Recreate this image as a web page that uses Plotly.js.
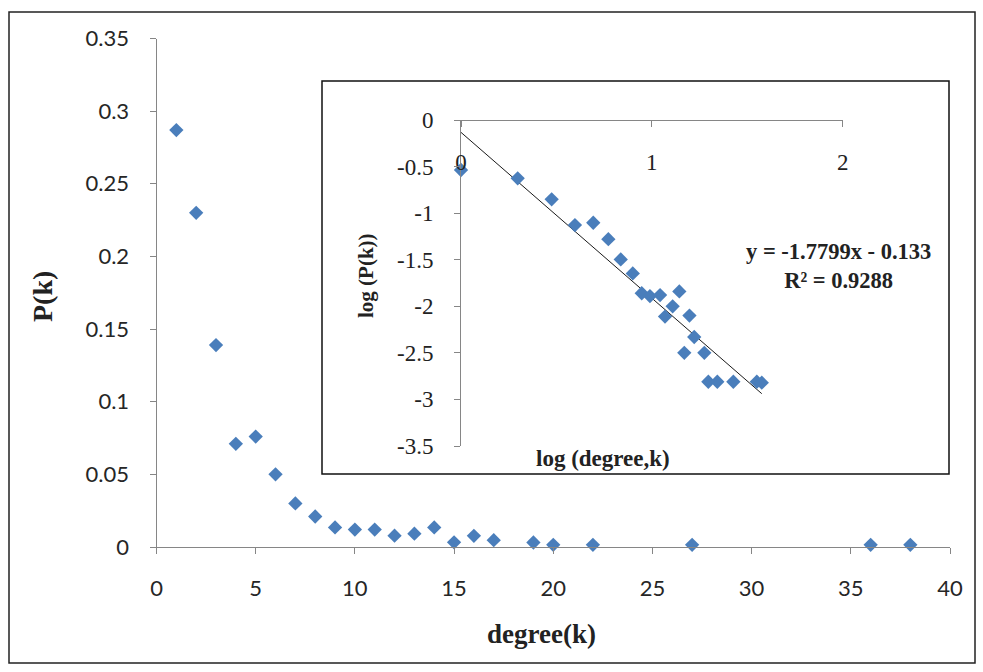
<!DOCTYPE html>
<html>
<head>
<meta charset="utf-8">
<script src="https://cdn.plot.ly/plotly-3.0.1.min.js"></script>
<style>
html, body { margin: 0; padding: 0; background: #fff; }
#chart { width: 983px; height: 672px; }
</style>
</head>
<body>
<div id="chart"></div>
<script>
// ---- Main chart data: degree distribution ----
const degree = [1, 2, 3, 4, 5, 6, 7, 8, 9, 10, 11, 12, 13, 14, 15, 16, 17, 19, 20, 22, 27, 36, 38];
const pk = [0.287, 0.230, 0.139, 0.071, 0.076, 0.050, 0.030, 0.021, 0.0135, 0.012, 0.012, 0.0078,
            0.0092, 0.0135, 0.0032, 0.0077, 0.0047, 0.0031, 0.0015, 0.0015, 0.0015, 0.0015, 0.0015];

// ---- Inset data: log-log plot ----
const logDegree = [0, 0.297, 0.475, 0.597, 0.693, 0.772, 0.837, 0.900, 0.947, 0.990, 1.043, 1.069,
                   1.109, 1.144, 1.170, 1.197, 1.222, 1.275, 1.296, 1.343, 1.427, 1.550, 1.576];
const logPk = [-0.537, -0.626, -0.852, -1.128, -1.103, -1.280, -1.497, -1.647, -1.860, -1.890, -1.880, -2.110,
               -2.000, -1.840, -2.500, -2.100, -2.330, -2.500, -2.810, -2.810, -2.810, -2.810, -2.820];

// Linear fit reported on the chart
const fitSlope = -1.7799;
const fitIntercept = -0.133;
const fitText = "y = -1.7799x - 0.133<br>R² = 0.9288";

// Titles
const mainXTitle = "degree(k)";
const mainYTitle = "P(k)";
const insetXTitle = "log (degree,k)";
const insetYTitle = "log (P(k))";

// Tick labels
const insetYTickVals = [0, -0.5, -1, -1.5, -2, -2.5, -3, -3.5];
const insetYTickText = ["0", "-0.5", "-1", "-1.5", "-2", "-2.5", "-3", "-3.5"];
const insetXTickVals = [0, 1, 2];
const insetXTickText = ["0", "1", "2"];

// ---- layout helpers (pixel -> paper) ----
const W = 983, H = 672;
const px = x => x / W;
const py = y => 1 - y / H;

const markerColor = "#4a7ebb";
const axisGray = "#868686";
const sansFont = "Lato, 'Liberation Sans', sans-serif";
const serifFont = "'Liberation Serif', 'DejaVu Serif', serif";

const fitX = [Math.min(...logDegree), Math.max(...logDegree)];
const fitY = fitX.map(x => fitSlope * x + fitIntercept);

const traces = [
  {
    type: "scatter", mode: "markers", x: degree, y: pk, xaxis: "x", yaxis: "y",
    marker: { symbol: "diamond", size: 11, color: markerColor },
    cliponaxis: false, showlegend: false, name: "P(k)"
  },
  {
    type: "scatter", mode: "lines", x: fitX, y: fitY, xaxis: "x2", yaxis: "y2",
    line: { color: "#1a1a1a", width: 1 }, showlegend: false, name: "fit"
  },
  {
    type: "scatter", mode: "markers", x: logDegree, y: logPk, xaxis: "x2", yaxis: "y2",
    marker: { symbol: "diamond", size: 11, color: markerColor },
    cliponaxis: false, showlegend: false, name: "log P(k)"
  }
];

const layout = {
  width: W, height: H,
  margin: { l: 0, r: 0, t: 0, b: 0, pad: 0 },
  paper_bgcolor: "#ffffff", plot_bgcolor: "rgba(0,0,0,0)",
  showlegend: false,
  xaxis: {
    domain: [px(156.5), px(950)], range: [0, 40], dtick: 5, tick0: 0,
    anchor: "y", showline: true, linecolor: axisGray, linewidth: 1,
    ticks: "outside", ticklen: 6, tickcolor: axisGray, tickwidth: 1,
    showgrid: false, zeroline: false, ticklabelstandoff: 16,
    tickfont: { family: sansFont, size: 22, color: "#262626" }
  },
  yaxis: {
    domain: [py(547), py(38.5)], range: [0, 0.35], dtick: 0.05, tick0: 0,
    anchor: "x", showline: true, linecolor: axisGray, linewidth: 1,
    ticks: "outside", ticklen: 6, tickcolor: axisGray, tickwidth: 1,
    showgrid: false, zeroline: false, ticklabelstandoff: 16,
    tickfont: { family: sansFont, size: 22, color: "#262626" }
  },
  xaxis2: {
    domain: [px(461), px(842.7)], range: [0, 2],
    anchor: "free", position: py(120), side: "bottom",
    tickmode: "array", tickvals: insetXTickVals, ticktext: insetXTickText,
    showline: true, linecolor: axisGray, linewidth: 1,
    ticks: "outside", ticklen: 6, tickcolor: axisGray, tickwidth: 1,
    showgrid: false, zeroline: false, ticklabelstandoff: 15,
    tickfont: { family: serifFont, size: 23, color: "#222" }
  },
  yaxis2: {
    domain: [py(446), py(120)], range: [-3.5, 0],
    anchor: "x2",
    tickmode: "array", tickvals: insetYTickVals, ticktext: insetYTickText,
    showline: true, linecolor: axisGray, linewidth: 1,
    ticks: "outside", ticklen: 6, tickcolor: axisGray, tickwidth: 1,
    showgrid: false, zeroline: false, ticklabelstandoff: 16,
    tickfont: { family: serifFont, size: 23, color: "#222" }
  },
  shapes: [
    { type: "rect", xref: "paper", yref: "paper", x0: px(9), x1: px(975), y0: py(663), y1: py(12),
      line: { color: "#222", width: 1.5 }, fillcolor: "rgba(0,0,0,0)", layer: "below" },
    { type: "rect", xref: "paper", yref: "paper", x0: px(322), x1: px(949), y0: py(474), y1: py(81),
      line: { color: "#111", width: 1.5 }, fillcolor: "#ffffff", layer: "below" }
  ],
  annotations: [
    { xref: "paper", yref: "paper", x: px(541), y: py(634), xanchor: "center", yanchor: "middle",
      text: "<b>" + mainXTitle + "</b>", showarrow: false,
      font: { family: serifFont, size: 27, color: "#222" } },
    { xref: "paper", yref: "paper", x: px(42), y: py(297), xanchor: "center", yanchor: "middle",
      text: "<b>" + mainYTitle + "</b>", showarrow: false, textangle: -90,
      font: { family: serifFont, size: 28, color: "#222" } },
    { xref: "paper", yref: "paper", x: px(603), y: py(458), xanchor: "center", yanchor: "middle",
      text: "<b>" + insetXTitle + "</b>", showarrow: false,
      font: { family: serifFont, size: 23, color: "#222" } },
    { xref: "paper", yref: "paper", x: px(366), y: py(276), xanchor: "center", yanchor: "middle",
      text: "<b>" + insetYTitle + "</b>", showarrow: false, textangle: -90,
      font: { family: serifFont, size: 21, color: "#222" } },
    { xref: "paper", yref: "paper", x: px(838), y: py(266), xanchor: "center", yanchor: "middle",
      text: "<b>" + fitText + "</b>", showarrow: false, align: "center",
      font: { family: serifFont, size: 22.5, color: "#222" } }
  ]
};

Plotly.newPlot("chart", traces, layout, { staticPlot: true, displayModeBar: false });
</script>
</body>
</html>
